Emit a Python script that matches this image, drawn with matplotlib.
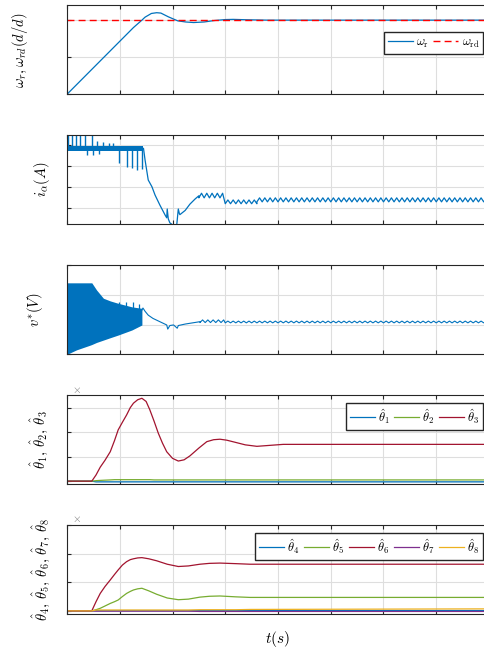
import numpy as np
import matplotlib
matplotlib.use("Agg")
import matplotlib.pyplot as plt

plt.rcParams['mathtext.fontset'] = 'cm'
plt.rcParams['font.family'] = ['DejaVu Sans']

# --- DATA (time in grid units 0..8) ---
# rotor speed and its reference
w_t = [0, 1.26, 1.42, 1.48, 1.60, 1.70, 1.78, 1.92, 2.1, 2.25, 2.4, 2.6, 2.8, 3.0, 3.15, 3.4, 3.8, 8.0]
w_r = [0, 1.80, 2.0, 2.08, 2.18, 2.20, 2.19, 2.09, 1.98, 1.95, 1.935, 1.95, 1.99, 2.015, 2.02, 2.01, 2.0, 2.0]
w_rd = 2.0

# i_alpha: noisy band at start, spikes, transient, then ripple
ia_band_t = [0.0, 1.45]
ia_band_lo = [2.74, 2.74]
ia_band_hi = [2.98, 2.98]
ia_up_t = [0.02, 0.09, 0.18, 0.25, 0.35, 0.47, 0.56, 0.68, 0.80, 0.87]
ia_up_v = [3.6, 3.6, 3.6, 3.6, 3.6, 3.6, 3.2, 3.15, 3.1, 3.1]
ia_dn_t = [0.37, 0.49, 0.61, 0.99, 1.14, 1.23, 1.32, 1.42]
ia_dn_v = [2.54, 2.54, 2.6, 2.16, 1.98, 1.92, 1.82, 1.87]
ia_t = [0.0, 0.0, 1.45, 1.48, 1.54, 1.61, 1.67, 1.76, 1.86, 1.89, 1.90, 1.92,
        1.95, 2.01, 2.08, 2.11, 2.13, 2.14, 2.24, 2.33, 2.43, 2.5]
ia_v = [0.08, 2.86, 2.86, 2.3, 1.35, 1.03, 0.63, 0.16, -0.32, -0.45, -0.03, -0.5,
        -0.69, -0.8, -0.8, -0.03, -0.25, -0.3, -0.1, 0.2, 0.45, 0.6]
ia_rip_start = [2.5, 3.0, 3.6]
ia_rip_end = [3.0, 3.6, 8.0]
ia_rip_hi = [0.72, 0.40, 0.50]
ia_rip_lo = [0.50, 0.22, 0.31]
rip_period = 0.1

# v*: PWM band envelopes, then transient and small ripple
v_band_t = [0.0, 0.18, 0.44, 0.47, 0.56, 0.69, 0.82, 0.97, 1.23, 1.42]
v_band_hi = [2.41, 2.41, 2.41, 2.41, 2.17, 1.89, 1.80, 1.72, 1.60, 1.55]
v_band_lo = [0.0, 0.15, 0.31, 0.33, 0.40, 0.48, 0.56, 0.65, 0.82, 0.99]
v_spk_t = [0.99, 1.12, 1.25, 1.36]
v_spk_v = [1.77, 1.77, 1.75, 1.70]
v_t = [1.42, 1.44, 1.48, 1.54, 1.63, 1.76, 1.89, 1.91, 1.95, 2.02, 2.09, 2.11, 2.24, 2.52]
v_v = [1.49, 1.56, 1.45, 1.32, 1.21, 1.10, 0.99, 0.85, 0.97, 0.99, 0.88, 0.97, 1.02, 1.10]
v_rip_start = [2.52, 3.0]
v_rip_end = [3.0, 8.0]
v_rip_hi = [1.16, 1.12]
v_rip_lo = [1.07, 1.06]

# parameter estimates theta_1..3
th_t = [0, 0.47, 0.55, 0.63, 0.72, 0.82, 0.90, 0.97, 1.05, 1.13, 1.20, 1.26, 1.34,
        1.42, 1.50, 1.57, 1.65, 1.73, 1.81, 1.89, 2.0, 2.11, 2.22, 2.33, 2.5, 2.65,
        2.78, 2.9, 3.03, 3.16, 3.38, 3.6, 3.85, 4.1, 8.0]
th1 = [0, 0] + [-0.03] * 33
th2 = [0, 0, 0.02, 0.03, 0.04, 0.05] + [0.06] * 10 + [0.05] * 19
th3 = [0, 0, 0.25, 0.57, 0.85, 1.2, 1.65, 2.09, 2.4, 2.7, 3.0, 3.18, 3.32,
       3.38, 3.25, 2.91, 2.45, 1.96, 1.55, 1.2, 0.93, 0.82, 0.87, 1.03, 1.35, 1.61,
       1.69, 1.71, 1.67, 1.6, 1.48, 1.42, 1.46, 1.5, 1.5]

# parameter estimates theta_4..8
tb_t = [0, 0.47, 0.55, 0.63, 0.72, 0.82, 0.90, 0.97, 1.05, 1.13, 1.20, 1.26, 1.34,
        1.42, 1.55, 1.70, 1.90, 2.11, 2.30, 2.52, 2.70, 2.9, 3.2, 3.47, 8.0]
th4 = [0, 0] + [0.01] * 23
th5 = [0, 0, 0.04, 0.09, 0.17, 0.26, 0.32, 0.38, 0.50, 0.61, 0.68, 0.73, 0.77,
       0.79, 0.70, 0.58, 0.45, 0.39, 0.41, 0.48, 0.51, 0.52, 0.49, 0.47, 0.47]
th6 = [0, 0, 0.32, 0.61, 0.85, 1.08, 1.27, 1.43, 1.60, 1.72, 1.79, 1.82, 1.85,
       1.86, 1.82, 1.75, 1.63, 1.55, 1.57, 1.63, 1.66, 1.67, 1.65, 1.63, 1.63]
th7 = [0, 0] + [-0.01] * 17 + [-0.02] * 6
th8 = [0, 0] + [0.03] * 17 + [0.04] * 4 + [0.05, 0.07]

blue = '#0072BD'
green = '#77AC30'
red = '#A2142F'
purple = '#7E2F8E'
orange = '#EDB120'


def ripple(starts, ends, his, los, period):
    # alternate the read top/bottom levels at the ripple period
    tt, vv = [], []
    for s, e, h, l in zip(starts, ends, his, los):
        for k, t in enumerate(np.arange(s, e, period / 2)):
            tt.append(t)
            vv.append(h if k % 2 else l)
    return tt, vv


fig = plt.figure(figsize=(4.84, 6.53), dpi=100)
left, width, height = 67 / 484, 422 / 484, 89 / 653
bottoms = [0.8556, 0.6565, 0.4574, 0.2583, 0.0597]
axes = [fig.add_axes([left, b, width, height]) for b in bottoms]

for ax in axes:
    ax.set_xlim(0, 8)
    ax.set_xticks(range(9))
    ax.grid(True, color='#dedede', lw=0.8)
    ax.set_axisbelow(True)
    ax.tick_params(direction='in', length=3, width=0.8, color='#262626',
                   labelbottom=False, labelleft=False, top=True, right=True)
    for s in ax.spines.values():
        s.set_color('#262626')
        s.set_linewidth(0.8)

leg_kw = dict(fancybox=False, framealpha=1, edgecolor='#262626', fontsize=9,
              borderpad=0.3, handlelength=2.0, handletextpad=0.25, columnspacing=0.35,
              borderaxespad=0)

# 1: speed
ax = axes[0]
ax.plot(w_t, w_r, color=blue, lw=0.9, label=r'$\omega_{\rm r}$')
ax.axhline(w_rd, color='#ff0000', ls=(0, (5, 3)), lw=1.0, label=r'$\omega_{\rm rd}$')
ax.set_ylim(0, 2.4)
ax.set_yticks([0, 1, 2])
ax.legend(loc='upper right', bbox_to_anchor=(0.986, 0.70), ncol=2, **leg_kw)
ax.set_ylabel(r'$\omega_r, \omega_{rd}(d/d)$', fontsize=10.5)
ax.yaxis.set_label_coords(-0.088, 0.5)

# 2: i_alpha
ax = axes[1]
ax.fill_between(ia_band_t, ia_band_lo, ia_band_hi, color=blue, lw=0)
ax.vlines(ia_up_t, 2.86, ia_up_v, color=blue, lw=1.0)
ax.vlines(ia_dn_t, ia_dn_v, 2.86, color=blue, lw=1.0)
rt, rv = ripple(ia_rip_start, ia_rip_end, ia_rip_hi, ia_rip_lo, rip_period)
ax.plot(ia_t + rt, ia_v + rv, color=blue, lw=0.9)
ax.set_ylim(-0.76, 3.48)
ax.set_yticks([0, 1, 2, 3])
ax.set_ylabel(r'$i_\alpha(A)$', fontsize=10.5)
ax.yaxis.set_label_coords(-0.036, 0.5)

# 3: v*
ax = axes[2]
ax.fill_between(v_band_t, v_band_lo, v_band_hi, color=blue, lw=0)
ax.vlines(v_spk_t, 1.3, v_spk_v, color=blue, lw=0.9)
rt, rv = ripple(v_rip_start, v_rip_end, v_rip_hi, v_rip_lo, rip_period)
ax.plot(v_t + rt, v_v + rv, color=blue, lw=0.8)
ax.set_ylim(0, 3)
ax.set_yticks([0, 1, 2, 3])
ax.set_ylabel(r'$v^{*}(V)$', fontsize=10.5)
ax.yaxis.set_label_coords(-0.052, 0.5)

# 4: theta 1..3
ax = axes[3]
ax.plot(th_t, th1, color=blue, lw=0.9, label=r'$\hat{\theta}_1$')
ax.plot(th_t, th2, color=green, lw=0.9, label=r'$\hat{\theta}_2$')
ax.plot(th_t, th3, color=red, lw=0.9, label=r'$\hat{\theta}_3$')
ax.set_ylim(-0.13, 3.5)
ax.set_yticks([0, 1, 2, 3])
ax.legend(loc='upper right', bbox_to_anchor=(0.986, 0.91), ncol=3, **leg_kw)
ax.set_ylabel(r'$\hat{\theta}_1,\,\hat{\theta}_2,\,\hat{\theta}_3$', fontsize=10.5)
ax.yaxis.set_label_coords(-0.040, 0.5)
ax.text(0.011, 1.03, r'$\times$', transform=ax.transAxes, fontsize=8, color='#777777')

# 5: theta 4..8
ax = axes[4]
ax.plot(tb_t, th4, color=blue, lw=0.9, label=r'$\hat{\theta}_4$')
ax.plot(tb_t, th5, color=green, lw=0.9, label=r'$\hat{\theta}_5$')
ax.plot(tb_t, th6, color=red, lw=0.9, label=r'$\hat{\theta}_6$')
ax.plot(tb_t, th7, color=purple, lw=0.9, label=r'$\hat{\theta}_7$')
ax.plot(tb_t, th8, color=orange, lw=0.9, label=r'$\hat{\theta}_8$')
ax.set_ylim(-0.11, 3.0)
ax.set_yticks([0, 1, 2, 3])
ax.legend(loc='upper right', bbox_to_anchor=(0.986, 0.907), ncol=5, **leg_kw)
ax.set_ylabel(r'$\hat{\theta}_4,\,\hat{\theta}_5,\,\hat{\theta}_6,\,\hat{\theta}_7,\,\hat{\theta}_8$',
              fontsize=10.5)
ax.yaxis.set_label_coords(-0.036, 0.5)
ax.text(0.011, 1.03, r'$\times$', transform=ax.transAxes, fontsize=8, color='#777777')
ax.set_xlabel(r'$t(s)$', fontsize=11)
ax.xaxis.set_label_coords(0.5, -0.17)

fig.savefig('out.png', dpi=100)
